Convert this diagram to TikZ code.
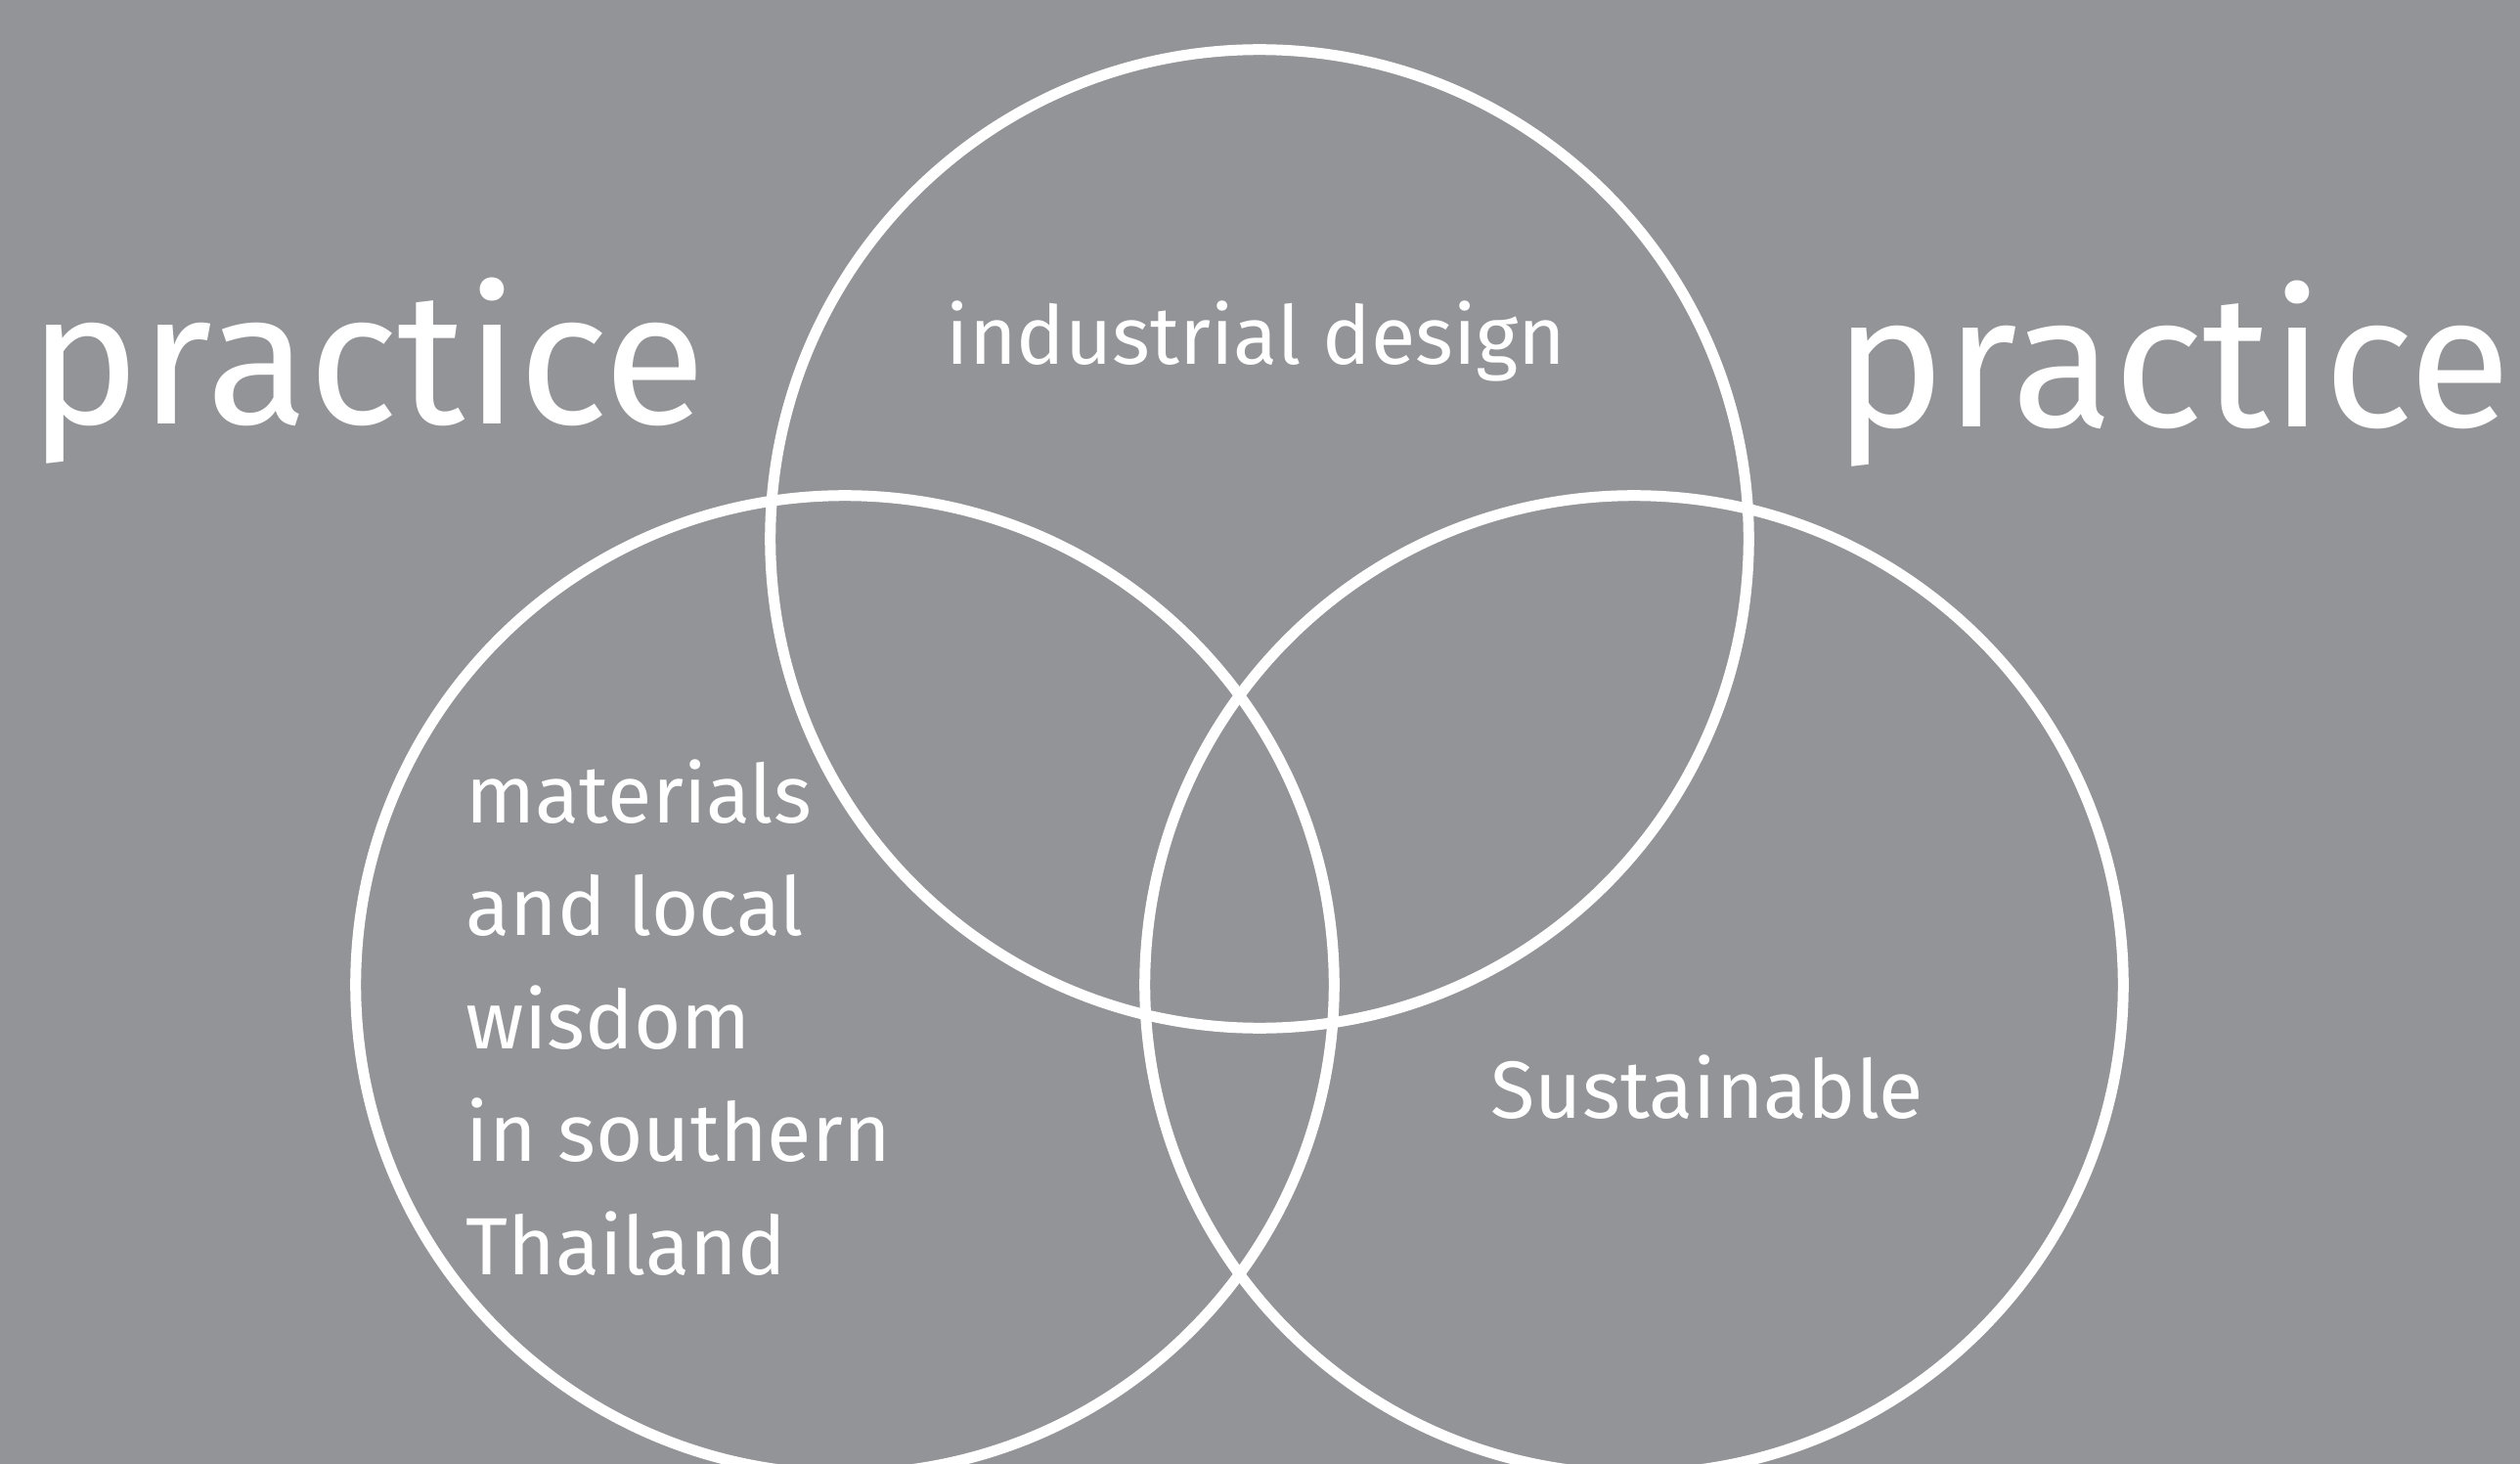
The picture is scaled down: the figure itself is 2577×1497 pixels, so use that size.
\documentclass[tikz,border=0pt]{standalone}
\usepackage{fontspec}
\setmainfont{Fira Sans}
\usetikzlibrary{positioning}
\definecolor{bggray}{RGB}{147,148,152}

\begin{document}
\begin{tikzpicture}[x=0.01cm,y=-0.01cm,
    ring/.style={draw=white, shape=circle, line width=1.1mm, minimum size=10cm, inner sep=0pt},
    bigword/.style={text=white, anchor=base west, inner sep=0pt, font=\fontsize{54.5}{60}\selectfont},
    word/.style={text=white, anchor=base west, inner sep=0pt, font=\fontsize{23.6}{30}\selectfont}]
        \fill[bggray] (0,0) rectangle (2577,1497);
        \useasboundingbox (0,0) rectangle (2577,1497);
        \node[ring] (design) at (1288,551) {};
        \node[ring] (wisdom) at (864,1007) {};
        \node[ring] (green) at (1671,1007) {};
        \node[bigword] (pl) at (29,434) {practice};
        \node[bigword] (pr) at (1875,436) {practice};
        \node[word] (id) at (967,373) {industrial design};
        \node[word] (sus) at (1524,1143) {Sustainable};
        \foreach \txt [count=\i] in {materials, and local, wisdom, in southern, Thailand}
            \node[word] (mat\i) at (476,{841+115.5*(\i-1)}) {\txt};
    \end{tikzpicture}
\end{document}
